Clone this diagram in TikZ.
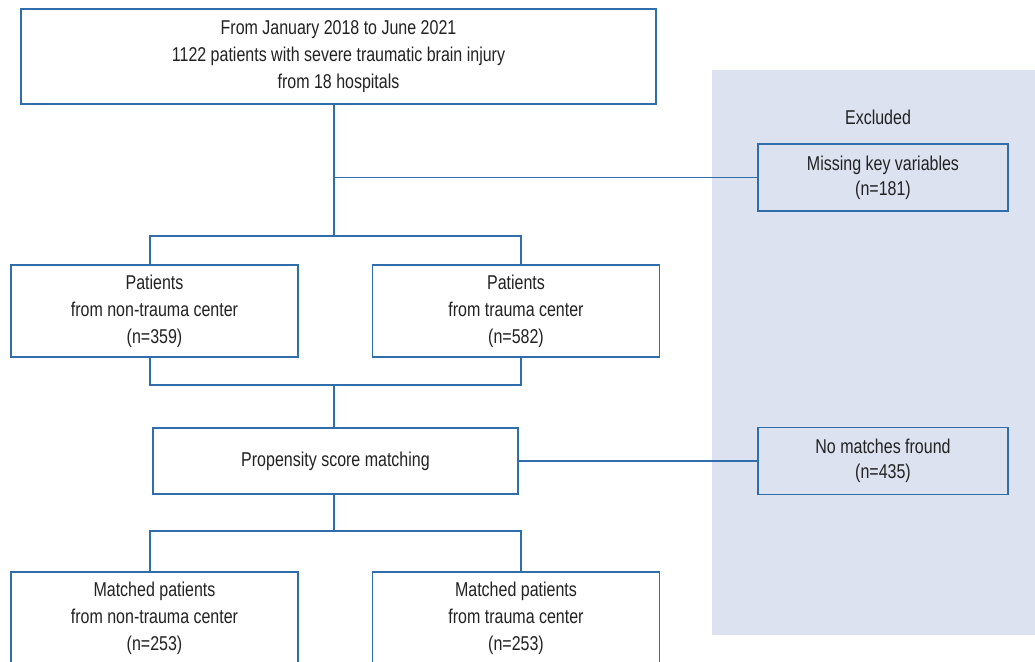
\documentclass[tikz,border=0pt]{standalone}
\usepackage{fontspec}
\setmainfont{Liberation Sans}[FakeStretch=0.8]
\usepackage{xcolor}
\usepackage{tikz}
\usetikzlibrary{positioning,calc}
\definecolor{flowblue}{HTML}{2F6EAA}
\definecolor{flowshade}{HTML}{DCE2F0}
\definecolor{flowtext}{HTML}{222222}
\tikzset{
  box/.style={draw=flowblue, line width=0.7pt, fill=white, align=center, text=flowtext, font=\fontsize{10}{13.5}\selectfont, minimum width=143.5pt, minimum height=46pt, inner sep=0pt},
  exbox/.style={box, fill=none, minimum width=125pt, minimum height=33.5pt, font=\fontsize{10}{12.5}\selectfont},
  link/.style={draw=flowblue, line width=0.7pt}
}

\begin{document}
\begin{tikzpicture}[x=0.5pt, y=-0.5pt]
  \useasboundingbox (0,0) rectangle (1035,662);
  % excluded panel
  \fill[flowshade] (712,70) rectangle (1035,635);

  \node[box, minimum width=317.5pt, minimum height=47.5pt] (source) at (338.5,56.5) {From January 2018 to June 2021\\1122 patients with severe traumatic brain injury\\from 18 hospitals};
  \node[text=flowtext, font=\fontsize{10}{12.5}\selectfont] (excluded) at (878,117) {Excluded};
  \node[exbox] (missing) at (883,177.5) {Missing key variables\\(n=181)};
  \node[box] (nontc) at (154.5,311) {Patients\\from non-trauma center\\(n=359)};
  \node[box] (tc) at (516,311) {Patients\\from trauma center\\(n=582)};
  \node[box, minimum width=182.5pt, minimum height=33pt] (psm) at (335.5,461) {Propensity score matching};
  \node[exbox] (nomatch) at (883,461) {No matches fround\\(n=435)};
  \node[box] (mnontc) at (154.5,618) {Matched patients\\from non-trauma center\\(n=253)};
  \node[box] (mtc) at (516,618) {Matched patients\\from trauma center\\(n=253)};

  \coordinate (fork1) at (334,236);
  \coordinate (join1) at (334,385);
  \coordinate (fork2) at (334,531);

  \draw[link] (fork1 |- source.south) -- (fork1);
  \draw[link] (fork1 |- missing.west) -- (missing.west);
  \draw[link] ($(nontc.north)+(-4.5,0)$) |- (fork1) -| ($(tc.north)+(5,0)$);
  \draw[link] ($(nontc.south)+(-4.5,0)$) |- (join1) -| ($(tc.south)+(5,0)$);
  \draw[link] (join1) -- (join1 |- psm.north);
  \draw[link] (psm.east) -- (nomatch.west);
  \draw[link] (fork2 |- psm.south) -- (fork2);
  \draw[link] ($(mnontc.north)+(-4.5,0)$) |- (fork2) -| ($(mtc.north)+(5,0)$);
\end{tikzpicture}
\end{document}
